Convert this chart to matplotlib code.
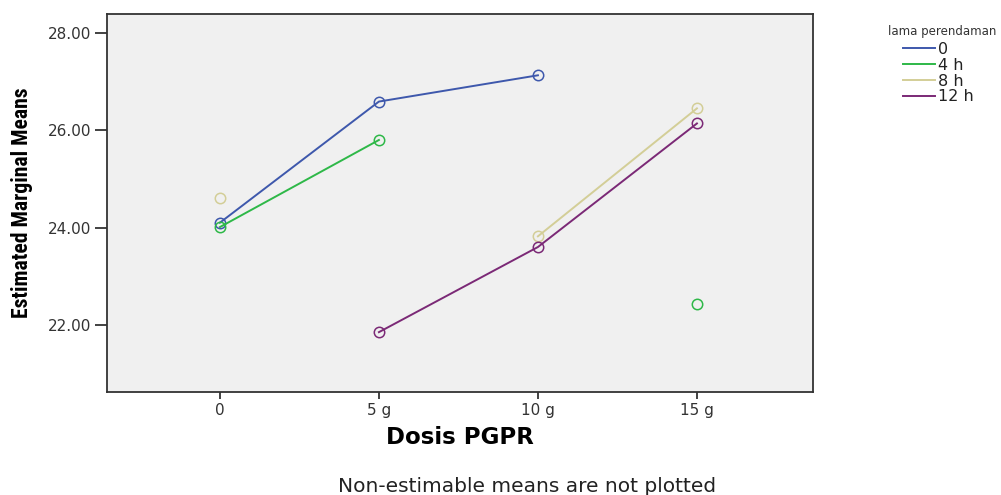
import numpy as np
import matplotlib
matplotlib.use("Agg")
import matplotlib.pyplot as plt
from matplotlib import font_manager as fm
from matplotlib.lines import Line2D

categories = ["0", "5 g", "10 g", "15 g"]
series_names = ["0", "4 h", "8 h", "12 h"]
nan = np.nan
values_0 = [24.10, 26.59, 27.13, nan]
values_4h = [24.01, 25.80, nan, 22.43]
values_8h = [24.60, nan, 23.82, 26.45]
values_12h = [nan, 21.85, 23.60, 26.14]
series_values = [values_0, values_4h, values_8h, values_12h]
colors = ["#3E58AC", "#2EB848", "#D3CE97", "#7B2976"]
y_ticks = [22.0, 24.0, 26.0, 28.0]

# pick a condensed bold face for the y label if one exists
narrow_family, narrow_stretch, ylab_size = "DejaVu Sans", "normal", 11.5
for f in fm.fontManager.ttflist:
    if f.name in ("Liberation Sans Narrow", "Roboto Condensed", "Open Sans Condensed",
                  "Arial Narrow", "DejaVu Sans Condensed"):
        narrow_family, narrow_stretch, ylab_size = f.name, "normal", 15.6
        break
else:
    for f in fm.fontManager.ttflist:
        if f.name == "DejaVu Sans" and str(f.stretch) in ("condensed", "semi-condensed"):
            narrow_family, narrow_stretch, ylab_size = "DejaVu Sans", "condensed", 13
            break

plt.rcParams["font.family"] = ["DejaVu Sans"]

fig = plt.figure(figsize=(10.01, 4.95), dpi=100, facecolor="white")
ax = fig.add_axes([107 / 1001, 1 - 392 / 495, (813 - 107) / 1001, (392 - 14) / 495])
ax.set_facecolor("#F0F0F0")

x = np.arange(len(categories))
for name, vals, c in zip(series_names, series_values, colors):
    ax.plot(x, vals, color=c, lw=1.4, marker="o", ms=7.5, mfc="none",
            mec=c, mew=1.1, label=name)

ax.set_xlim(-0.71, 3.73)
ax.set_ylim(20.62, 28.39)
ax.set_xticks(x)
ax.set_xticklabels(categories)
ax.set_yticks(y_ticks)
ax.set_yticklabels([f"{v:.2f}" for v in y_ticks])

for s in ax.spines.values():
    s.set_color("#333333")
    s.set_linewidth(1.3)

ax.tick_params(axis="y", direction="out", length=9, width=1.3, color="#333333",
               labelsize=11, labelcolor="#333333", pad=2)
ax.tick_params(axis="x", direction="out", length=5, width=1.3, color="#333333",
               labelsize=11, labelcolor="#333333", pad=3)

ax.set_ylabel("Estimated Marginal Means", family=[narrow_family, "DejaVu Sans"],
              fontstretch=narrow_stretch, fontweight="bold", fontsize=ylab_size,
              va="center")
ax.yaxis.set_label_coords((22 - 107) / 706, 0.5)
ax.set_xlabel("Dosis PGPR", fontweight="bold", fontsize=16.5, va="center")
ax.xaxis.set_label_coords(0.5, (392 - 438) / 378)

fig.text(527 / 1001, 1 - 486 / 495, "Non-estimable means are not plotted",
         ha="center", va="center", fontsize=14.5, color="#222222")

lh = [Line2D([], [], color=c, lw=1.4) for c in colors]
leg = fig.legend(lh, series_names, loc="upper left",
                 bbox_to_anchor=(895 / 1001, 1 - 34 / 495), frameon=False,
                 fontsize=11.5, handlelength=2.0, handletextpad=0.2,
                 labelspacing=0.05, borderpad=0.0)
for t in leg.get_texts():
    t.set_color("#222222")
fig.text(888 / 1001, 1 - 32 / 495, "lama perendaman", ha="left", va="center",
         fontsize=8.5, color="#333333")

fig.savefig("out.png", dpi=100, facecolor="white")
